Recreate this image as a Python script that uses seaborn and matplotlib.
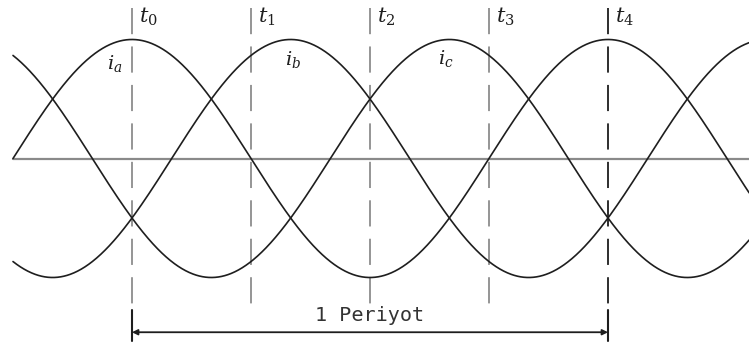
import numpy as np
import pandas as pd
import matplotlib
matplotlib.use("Agg")
import matplotlib.pyplot as plt
import seaborn as sns

# Three-phase currents: name, phase shift (deg), peak amplitude
phases = ["a", "b", "c"]
phase_shift_deg = [0, 120, 240]
amplitude = [1.0, 1.0, 1.0]

# Marked instants t0..t4 (deg) and their labels
mark_deg = [90, 180, 270, 360, 450]
mark_labels = [r"$t_0$", r"$t_1$", r"$t_2$", r"$t_3$", r"$t_4$"]

# Current label positions (deg, value)
cur_label_deg = [77, 212, 327]
cur_label_val = [0.80, 0.83, 0.84]

period_text = "1 Periyot"

theta = np.linspace(0, 560, 1400)
frames = []
for name, sh, amp in zip(phases, phase_shift_deg, amplitude):
    frames.append(pd.DataFrame({
        "theta": theta,
        "i": amp * np.sin(np.deg2rad(theta - sh)),
        "phase": name,
    }))
df = pd.concat(frames, ignore_index=True)

sns.set_style("white")
plt.rcParams["mathtext.fontset"] = "dejavuserif"
fig = plt.figure(figsize=(7.49, 3.45), dpi=100)
ax = fig.add_axes([0, 0, 1, 1])

sns.lineplot(data=df, x="theta", y="i", units="phase", estimator=None,
             color="#1e1e1e", lw=1.2, ax=ax, legend=False)

# zero axis
ax.plot([0, 560], [0, 0], color="#8a8a8a", lw=1.6, zorder=1)

# dashed instant markers
for k, (d, lab) in enumerate(zip(mark_deg, mark_labels)):
    col = "#1e1e1e" if k == len(mark_deg) - 1 else "#8c8c8c"
    ax.plot([d, d], [1.265, -1.255], color=col, lw=1.3,
            linestyle=(0, (14.5, 6.8)), zorder=0.5)
    ax.text(d + 5, 1.19, lab, fontsize=15, color="#1e1e1e",
            ha="left", va="center")

for name, d, v in zip(phases, cur_label_deg, cur_label_val):
    ax.text(d, v, r"$i_%s$" % name, fontsize=14, color="#1e1e1e",
            ha="center", va="center")

# period span
d0, d1 = mark_deg[0], mark_deg[-1]
for d in (d0, d1):
    ax.plot([d, d], [-1.27, -1.53], color="#1e1e1e", lw=1.5)
ax.annotate("", xy=(d0, -1.46), xytext=(d1, -1.46),
            arrowprops=dict(arrowstyle="<|-|>", color="#1e1e1e", lw=1.3,
                            mutation_scale=8, shrinkA=0, shrinkB=0))
ax.text((d0 + d1) / 2, -1.32, period_text, fontsize=14.5,
        family="DejaVu Sans Mono", color="#333333", ha="center", va="center")

px_per_deg = 476 / 360
ax.set_xlim(-13 / px_per_deg, (749 - 13) / px_per_deg)
ax.set_ylim(-(345 - 158.5) / 119, 158.5 / 119)
ax.axis("off")

fig.savefig("out.png", dpi=100)
